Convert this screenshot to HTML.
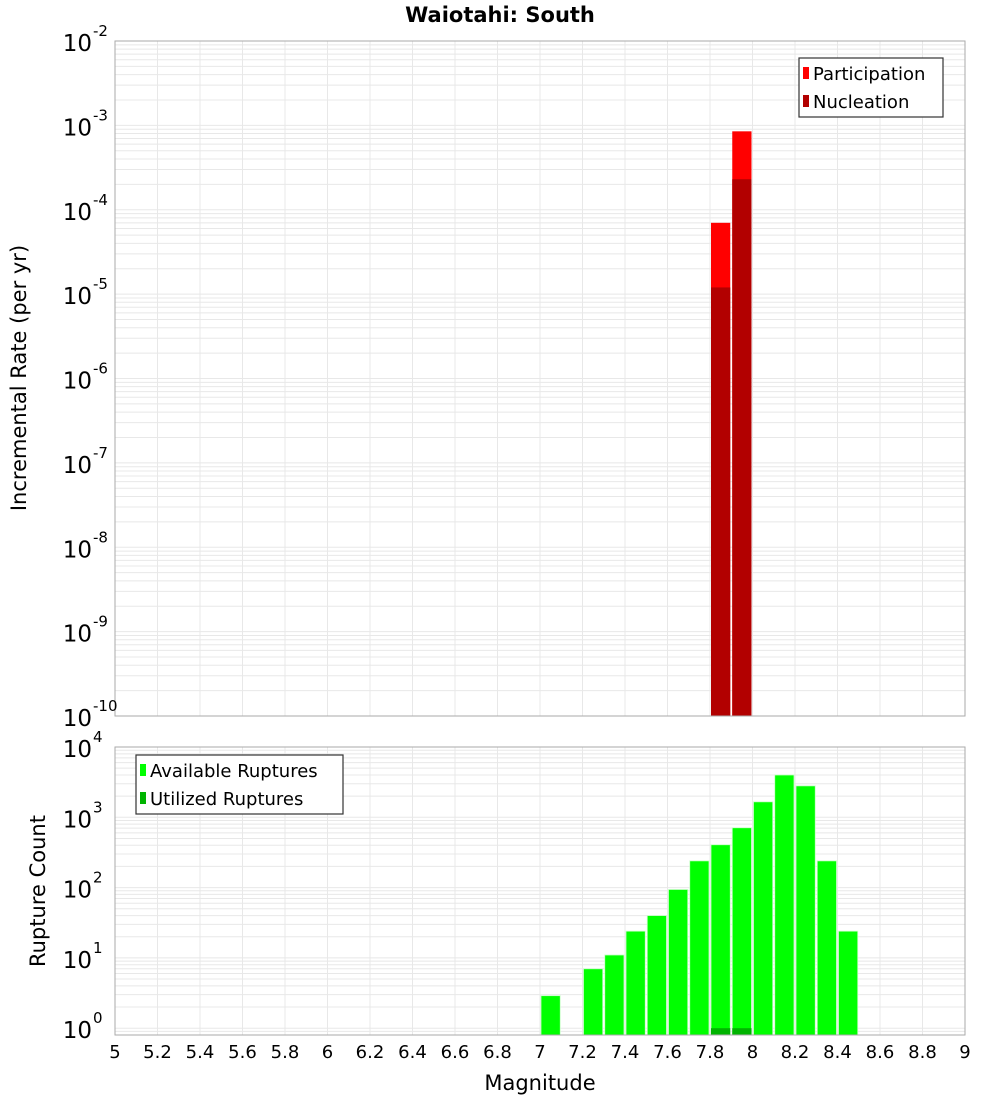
<!DOCTYPE html>
<html><head><meta charset="utf-8"><style>
body{margin:0;background:#fff;}
svg{display:block;font-family:"DejaVu Sans","Liberation Sans",sans-serif;}
</style></head><body>
<svg id="chart" width="1000" height="1100" viewBox="0 0 1000 1100"></svg>
<script>
const binCenters = [7.05,7.15,7.25,7.35,7.45,7.55,7.65,7.75,7.85,7.95,8.05,8.15,8.25,8.35,8.45];
const participation = [0,0,0,0,0,0,0,0,7e-5,8.5e-4,0,0,0,0,0];
const nucleation = [0,0,0,0,0,0,0,0,1.2e-5,2.3e-4,0,0,0,0,0];
const available = [2.9,0,7,11,24,40,94,240,407,710,1660,4000,2800,240,24];
const utilized = [0,0,0,0,0,0,0,0,1,1,0,0,0,0,0];
const xTicks = [5,5.2,5.4,5.6,5.8,6,6.2,6.4,6.6,6.8,7,7.2,7.4,7.6,7.8,8,8.2,8.4,8.6,8.8,9];
const topExps = [-10,-9,-8,-7,-6,-5,-4,-3,-2];
const botExps = [0,1,2,3,4];

const NS="http://www.w3.org/2000/svg";
const svg=document.getElementById('chart');
function mk(tag,attrs,parent){const e=document.createElementNS(NS,tag);for(const k in attrs)e.setAttribute(k,attrs[k]);(parent||svg).appendChild(e);return e;}
const X0=115,X1=965;
const xs=m=>X0+(m-5)/4*(X1-X0);
const T0=41,T1=716;
const yTop=v=>T1-(Math.log10(v)+10)/8*(T1-T0);
const B0=747,B1=1035;
const bMin=Math.log10(0.8),bMax=4;
const yBot=v=>B1-(Math.log10(v)-bMin)/(bMax-bMin)*(B1-B0);

// title
const t=mk('text',{x:500,y:22,'text-anchor':'middle','font-size':21,'font-weight':'bold'});
t.textContent='Waiotahi: South';



function grid(y0,y1,ylog,emin,emax){
  const g=mk('g',{});
  for(let e=emin;e<emax;e++)for(let k=1;k<10;k++){
    const v=k*Math.pow(10,e);const y=ylog(v);
    if(y<y0-0.5||y>y1+0.5)continue;
    const l=mk('line',{x1:X0,x2:X1,y1:y,y2:y,stroke:'#e8e8e8','stroke-width':1},g);
  }
  xTicks.forEach(m=>{const x=xs(m);mk('line',{x1:x,x2:x,y1:y0,y2:y1,stroke:'#e8e8e8','stroke-width':1},g);});
  return g;
}
const gt=grid(T0,T1,yTop,-10,-2);


const gb=grid(B0,B1,yBot,-1,4);



const bw=(xs(5.1)-xs(5))-2;
// top bars
binCenters.forEach((m,i)=>{
  if(participation[i]>0){
    const y=yTop(participation[i]);
    const r=mk('rect',{x:xs(m)-bw/2,y:y,width:bw,height:T1-y,fill:'#ff0000'});
    
    
  }
  if(nucleation[i]>0){
    const y=yTop(nucleation[i]);
    const r=mk('rect',{x:xs(m)-bw/2,y:y,width:bw,height:T1-y,fill:'#b20000'});
    
    
  }
});
// bottom bars
binCenters.forEach((m,i)=>{
  if(available[i]>0){
    const y=yBot(available[i]);
    const r=mk('rect',{x:xs(m)-bw/2,y:y,width:bw,height:B1-y,fill:'#00ff00',stroke:'#c8ffc8','stroke-width':0.8});
    
    
  }
  if(utilized[i]>0){
    const y=yBot(utilized[i]);
    const r=mk('rect',{x:xs(m)-bw/2,y:y,width:bw,height:B1-y,fill:'#00b400'});
    
    
  }
});
// frames
const f1=mk('rect',{x:X0,y:T0,width:X1-X0,height:T1-T0,fill:'none',stroke:'#aaa'});


const f2=mk('rect',{x:X0,y:B0,width:X1-X0,height:B1-B0,fill:'none',stroke:'#aaa'});



// y tick labels
function ylab(y,e,name){
  const tx=mk('text',{x:92,y:y+10,'text-anchor':'end','font-size':23});
  tx.textContent='10';
  
  
  const s=mk('text',{x:93,y:y-5,'font-size':15});
  s.textContent=String(e);
  
  
}
topExps.forEach(e=>ylab(yTop(Math.pow(10,e)),e,'top-y-tick-label'));
botExps.forEach(e=>ylab(yBot(Math.pow(10,e)),e,'bottom-y-tick-label'));

// x tick labels
xTicks.forEach(m=>{
  const tx=mk('text',{x:xs(m),y:1058,'text-anchor':'middle','font-size':18});
  tx.textContent=String(m);
  
  
});
const xt=mk('text',{x:540,y:1090,'text-anchor':'middle','font-size':21});
xt.textContent='Magnitude';



const yt1=mk('text',{x:0,y:0,'text-anchor':'middle','font-size':21,transform:'translate(26,378) rotate(-90)'});
yt1.textContent='Incremental Rate (per yr)';


const yt2=mk('text',{x:0,y:0,'text-anchor':'middle','font-size':21,transform:'translate(45,891) rotate(-90)'});
yt2.textContent='Rupture Count';



// legends
function legend(x,y,w,items,name){
  const g=mk('g',{});
  
  
  mk('rect',{x:x,y:y,width:w,height:59,fill:'#fff',stroke:'#333','stroke-width':1.2},g);
  items.forEach((it,i)=>{
    const cy=y+15+i*28;
    const sw=mk('rect',{x:x+4,y:cy-6,width:6,height:12,fill:it[1]},g);
    
    
    const tx=mk('text',{x:x+14,y:cy+7,'font-size':18},g);
    tx.textContent=it[0];
    
    
  });
}
legend(799,58,144,[['Participation','#ff0000'],['Nucleation','#b20000']],'top-legend');
legend(136,755,207,[['Available Ruptures','#00ff00'],['Utilized Ruptures','#00b400']],'bottom-legend');
</script>
</body></html>
